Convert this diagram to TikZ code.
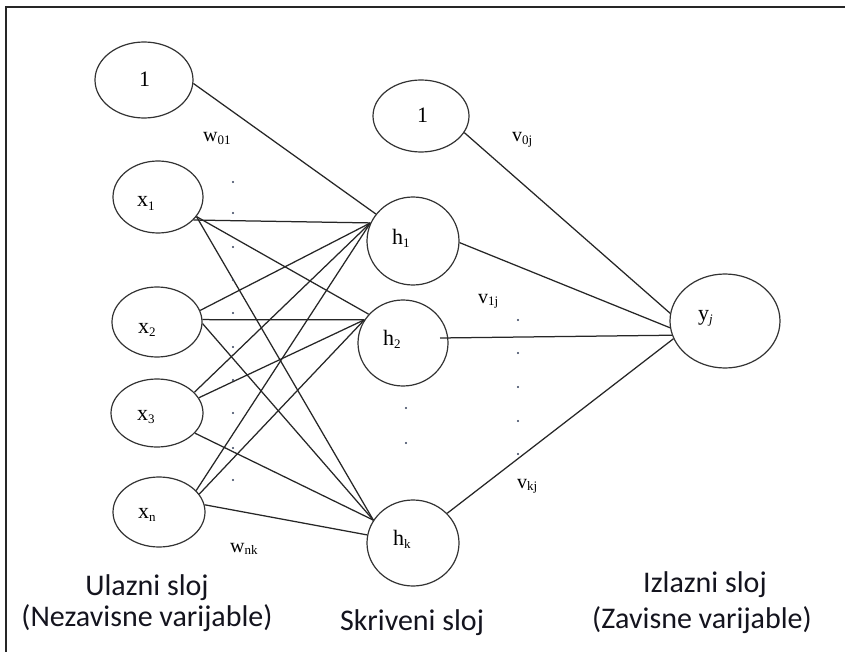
\documentclass[tikz,border=0pt]{standalone}
\usepackage{fontspec}
\setmainfont{Liberation Serif}
\newfontfamily\labelsans{Carlito}
\usetikzlibrary{shapes.geometric,calc}
\definecolor{edgecol}{HTML}{262626}
\definecolor{ringcol}{HTML}{333333}
\definecolor{txtcol}{HTML}{14141E}
\definecolor{dotcol}{HTML}{34405A}
\newcommand\lsub[1]{\raisebox{-0.3ex}{\fontsize{13}{13}\selectfont #1}}
\begin{document}
\begin{tikzpicture}[x=1pt,y=-1pt,
  neuron/.style={ellipse, draw=ringcol, line width=1.2pt, inner sep=0pt},
  conn/.style={draw=edgecol, line width=1.25pt},
  lbl/.style={font=\fontsize{22}{22}\selectfont, text=black, anchor=base west, inner sep=0pt},
  wlbl/.style={font=\fontsize{20}{20}\selectfont, text=black, anchor=base west, inner sep=0pt},
  captxt/.style={font=\labelsans\fontsize{30}{30}\selectfont, text=txtcol, anchor=base, inner sep=0pt}
]
\useasboundingbox (0,0) rectangle (845,652);
\fill[white] (0,0) rectangle (845,652);
% frame
\draw[line width=2pt, black!85] (6,652) -- (6,7) -- (845,7);

% neurons
\node[neuron, minimum width=98pt, minimum height=76pt] (onein) at (144,80) {};
\node[neuron, minimum width=90pt, minimum height=72pt] (x1) at (158,197) {};
\node[neuron, minimum width=90pt, minimum height=70pt] (x2) at (157,322) {};
\node[neuron, minimum width=92pt, minimum height=68pt] (x3) at (157,413) {};
\node[neuron, minimum width=92pt, minimum height=70pt] (xn) at (159,512) {};
\node[neuron, minimum width=96pt, minimum height=72pt] (oneh) at (421,116) {};
\node[neuron, minimum width=92pt, minimum height=88pt] (h1) at (413,241) {};
\node[neuron, minimum width=90pt, minimum height=86pt] (h2) at (403,343) {};
\node[neuron, minimum width=92pt, minimum height=86pt] (hk) at (413,543) {};
\node[neuron, minimum width=110pt, minimum height=94pt] (yj) at (725,321) {};

% labels inside neurons
\node[lbl] (tonein) at (139,87) {1};
\node[lbl] (tx1) at (137,207) {x\lsub{1}};
\node[lbl] (tx2) at (138,333) {x\lsub{2}};
\node[lbl] (tx3) at (137,420) {x\lsub{3}};
\node[lbl] (txn) at (138,518) {x\lsub{n}};
\node[lbl] (toneh) at (417,123) {1};
\node[lbl] (th1) at (392,244) {h\lsub{1}};
\node[lbl] (th2) at (383,345) {h\lsub{2}};
\node[lbl] (thk) at (393,545) {h\lsub{k}};
\node[lbl] (tyj) at (698,320) {y\lsub{\textit{j}}};

% input -> hidden
\draw[conn] (onein.-4) -- (h1.144);
\draw[conn] (x1.-33) -- (h1.157);
\draw[conn] (x1.-27) -- (h2.140);
\draw[conn] (x1.-27) -- (hk.150);
\draw[conn] (x2.15) -- (h1.157);
\draw[conn] (x2.3) -- (h2.149);
\draw[conn] (x2.-2) -- (hk.150);
\draw[conn] (x3.29) -- (h1.157);
\draw[conn] (x3.20) -- (h2.149);
\draw[conn] (x3.-28) -- (hk.150);
\draw[conn] (xn.30) -- (h1.157);
\draw[conn] (xn.24) -- (h2.149);
\draw[conn] (xn.9) -- (hk.170);

% hidden -> output
\draw[conn] (oneh.-21) -- (yj.172);
\draw[conn] (h1.-2) -- (yj.187);
\draw[conn] ($(h2.center)+(37,-5)$) -- (yj.195);
\draw[conn] (hk.41) -- (yj.199);

% weight labels
\node[wlbl] (w01) at (203,142) {w\lsub{01}};
\node[wlbl] (wnk) at (230,552) {w\lsub{nk}};
\node[wlbl] (v0j) at (512,142) {v\lsub{0j}};
\node[wlbl] (v1j) at (478,303) {v\lsub{1j}};
\node[wlbl] (vkj) at (517,488) {v\lsub{kj}};

% dots
\foreach \yy in {182,213,247,280,313,347,380,413,448,480}
  \fill[dotcol] (233,\yy) circle (1.1pt);
\foreach \yy in {408,443}
  \fill[dotcol] (406,\yy) circle (1.1pt);
\foreach \yy in {320,353,387,421,454}
  \fill[dotcol] (518,\yy) circle (1.1pt);

% layer captions
\node[captxt] (c1a) at (147,595) {Ulazni sloj};
\node[captxt] (c1b) at (147,626) {(Nezavisne varijable)};
\node[captxt] (c2) at (412,630) {Skriveni sloj};
\node[captxt] (c3a) at (705,592) {Izlazni sloj};
\node[captxt] (c3b) at (702,628) {(Zavisne varijable)};
\end{tikzpicture}
\end{document}
